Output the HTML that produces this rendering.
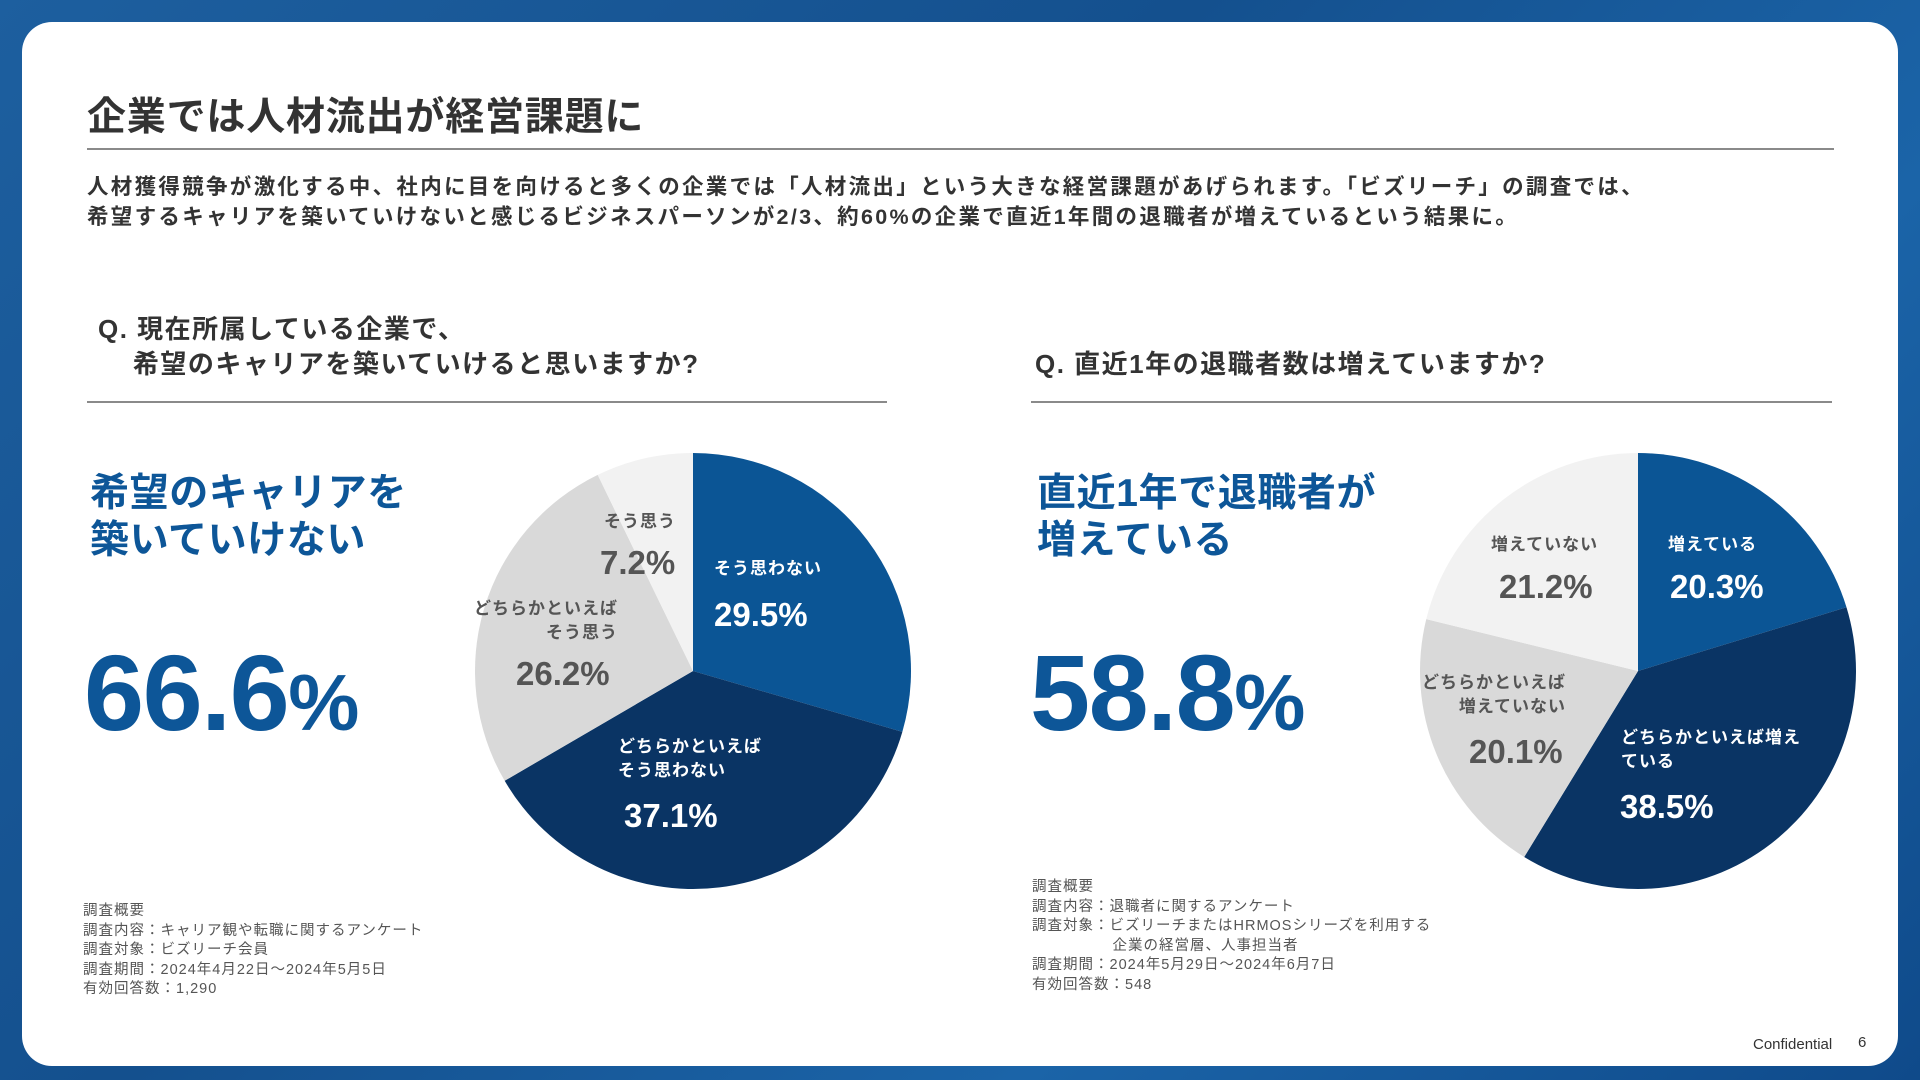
<!DOCTYPE html>
<html lang="ja"><head><meta charset="utf-8">
<style>
html,body{margin:0;padding:0;width:1920px;height:1080px;overflow:hidden;}
body{background:linear-gradient(135deg,#1d5f9f 0%,#14508e 40%,#1b64a8 70%,#0f4a8a 100%);font-family:"Liberation Sans","Noto Sans CJK JP",sans-serif;position:relative;}
.card{position:absolute;left:22px;top:22px;width:1876px;height:1044px;background:#fff;border-radius:30px;}
.abs{position:absolute;white-space:nowrap;}
.title{left:87px;top:86px;font-size:39px;font-weight:bold;color:#333;letter-spacing:0.8px;}
.hr{position:absolute;height:2px;background:#8a8a8a;}
.para{left:87px;top:172px;font-size:21.5px;font-weight:bold;color:#333;line-height:30px;letter-spacing:2.3px;}
.q{font-size:26px;font-weight:bold;color:#333;line-height:35px;letter-spacing:1.5px;}
.big{font-size:39px;font-weight:bold;color:#0d5698;line-height:47px;letter-spacing:0.6px;}
.num{font-size:108px;font-weight:bold;color:#0d5698;letter-spacing:-1.5px;line-height:1;}
.num span{font-size:80px;letter-spacing:0;}
.foot{font-size:14.5px;color:#555;line-height:19.5px;letter-spacing:1px;}
.lb{font-size:17px;font-weight:bold;line-height:24px;letter-spacing:1px;}
.pc{font-size:33px;font-weight:bold;}
.w{color:#fff}.g{color:#555}
</style></head><body>
<div class="card"></div>
<div class="abs title">企業では人材流出が経営課題に</div>
<div class="hr" style="left:87px;top:148px;width:1747px"></div>
<div class="abs para">人材獲得競争が激化する中、社内に目を向けると多くの企業では「人材流出」という大きな経営課題があげられます。「ビズリーチ」の調査では、<br>希望するキャリアを築いていけないと感じるビジネスパーソンが2/3、約60%の企業で直近1年間の退職者が増えているという結果に。</div>

<div class="abs q" style="left:98px;top:312px">Q. 現在所属している企業で、<br>&nbsp;&nbsp;&nbsp;&nbsp;希望のキャリアを築いていけると思いますか?</div>
<div class="hr" style="left:87px;top:401px;width:800px"></div>
<div class="abs q" style="left:1035px;top:347px">Q. 直近1年の退職者数は増えていますか?</div>
<div class="hr" style="left:1031px;top:401px;width:801px"></div>

<div class="abs big" style="left:90px;top:470px">希望のキャリアを<br>築いていけない</div>
<div class="abs num" style="left:84px;top:639px">66.6<span>%</span></div>
<div class="abs big" style="left:1037px;top:470px">直近1年で退職者が<br>増えている</div>
<div class="abs num" style="left:1030px;top:639px">58.8<span>%</span></div>

<svg id="pies" width="1920" height="1080" style="position:absolute;left:0;top:0"></svg>

<!-- left pie labels -->
<div class="abs lb w" style="left:714px;top:557px">そう思わない</div>
<div class="abs pc w" style="left:714px;top:596px">29.5%</div>
<div class="abs lb w" style="left:618px;top:735px">どちらかといえば<br>そう思わない</div>
<div class="abs pc w" style="left:624px;top:797px">37.1%</div>
<div class="abs lb g" style="right:1302px;top:597px;text-align:right">どちらかといえば<br>そう思う</div>
<div class="abs pc g" style="left:516px;top:655px">26.2%</div>
<div class="abs lb g" style="left:604px;top:510px">そう思う</div>
<div class="abs pc g" style="left:600px;top:544px">7.2%</div>
<!-- right pie labels -->
<div class="abs lb g" style="left:1491px;top:533px">増えていない</div>
<div class="abs pc g" style="left:1499px;top:568px">21.2%</div>
<div class="abs lb w" style="left:1668px;top:533px">増えている</div>
<div class="abs pc w" style="left:1670px;top:568px">20.3%</div>
<div class="abs lb g" style="right:354px;top:671px;text-align:right">どちらかといえば<br>増えていない</div>
<div class="abs pc g" style="left:1469px;top:733px">20.1%</div>
<div class="abs lb w" style="left:1621px;top:726px">どちらかといえば増え<br>ている</div>
<div class="abs pc w" style="left:1620px;top:788px">38.5%</div>

<div class="abs foot" style="left:83px;top:902px">調査概要<br>調査内容：キャリア観や転職に関するアンケート<br>調査対象：ビズリーチ会員<br>調査期間：2024年4月22日～2024年5月5日<br>有効回答数：1,290</div>
<div class="abs foot" style="left:1032px;top:878px">調査概要<br>調査内容：退職者に関するアンケート<br>調査対象：ビズリーチまたはHRMOSシリーズを利用する<br>&nbsp;&nbsp;&nbsp;&nbsp;&nbsp;&nbsp;&nbsp;&nbsp;&nbsp;&nbsp;&nbsp;&nbsp;&nbsp;&nbsp;&nbsp;&nbsp;企業の経営層、人事担当者<br>調査期間：2024年5月29日～2024年6月7日<br>有効回答数：548</div>
<div class="abs" style="left:1753px;top:1036px;font-size:15px;color:#333">Confidential</div>
<div class="abs" style="left:1858px;top:1034px;font-size:15px;color:#333">6</div>

<script>
const leftCategories = ["そう思わない","どちらかといえばそう思わない","どちらかといえばそう思う","そう思う"];
const leftValues = [29.5, 37.1, 26.2, 7.2];
const rightCategories = ["増えている","どちらかといえば増えている","どちらかといえば増えていない","増えていない"];
const rightValues = [20.3, 38.5, 20.1, 21.2];
const sliceColors = ["#0b5595","#0a3464","#d9d9d9","#f2f2f2"];

const svg = document.getElementById('pies');
const NS = "http://www.w3.org/2000/svg";
function angleScale(v, total){ return v / total * Math.PI * 2; }
function drawPie(cx, cy, r, cats, vals, prefix){
  const total = vals.reduce((a,b)=>a+b,0);
  let a0 = -Math.PI/2;
  vals.forEach((v,i)=>{
    const a1 = a0 + angleScale(v,total);
    const x0 = cx + r*Math.cos(a0), y0 = cy + r*Math.sin(a0);
    const x1 = cx + r*Math.cos(a1), y1 = cy + r*Math.sin(a1);
    const large = (a1-a0) > Math.PI ? 1 : 0;
    const p = document.createElementNS(NS,'path');
    p.setAttribute('d',`M${cx},${cy} L${x0},${y0} A${r},${r} 0 ${large} 1 ${x1},${y1} Z`);
    p.setAttribute('fill',sliceColors[i]);
    
    
    const t = document.createElementNS(NS,'title'); t.textContent = cats[i] + ' ' + v + '%';
    p.appendChild(t);
    svg.appendChild(p);
    a0 = a1;
  });
}
drawPie(693, 671, 218, leftCategories, leftValues, 'left-pie');
drawPie(1638, 671, 218, rightCategories, rightValues, 'right-pie');
</script>
</body></html>
